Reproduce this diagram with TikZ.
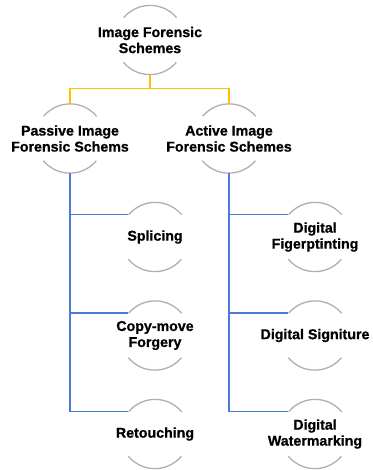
\documentclass[tikz,border=0pt]{standalone}
\usepackage{fontspec}
\setmainfont{Liberation Sans}
\newfontfamily\lblfont{Liberation Sans}[BoldFeatures={FakeBold=0.8}]
\begin{document}
\begin{tikzpicture}[x=1pt,y=-1pt,
  ring/.style={circle,draw=none,minimum size=69pt,inner sep=0pt},
  lbl/.style={font=\lblfont\bfseries\fontsize{14.2}{16}\selectfont,align=center,text=black,inner sep=0pt},
  arcline/.style={draw=arcgray,line width=1.3pt},
  trunk/.style={draw=goldline,line width=1.6pt},
  branch/.style={draw=blueline,line width=1.4pt}]
\definecolor{arcgray}{HTML}{AFAFAF}
\definecolor{goldline}{HTML}{FFC000}
\definecolor{blueline}{HTML}{4A7BDA}
\useasboundingbox (0,0) rectangle (372,470);

% circle holders
\node[ring] (root)    at (150,40)  {};
\node[ring] (passive) at (70,138.5)  {};
\node[ring] (active)  at (229,138.5) {};
\node[ring] (splice)  at (155,237) {};
\node[ring] (copy)    at (155,335.5) {};
\node[ring] (retouch) at (155,434) {};
\node[ring] (finger)  at (315,237) {};
\node[ring] (sign)    at (315,335.5) {};
\node[ring] (water)   at (315,434) {};

% open arcs around each label
\foreach \n in {root,passive,active,splice,copy,retouch,finger,sign,water}{
  \draw[arcline] (\n.40) arc[start angle=40,end angle=140,radius=34.5pt];
  \draw[arcline] (\n.220) arc[start angle=220,end angle=320,radius=34.5pt];
}

% labels
\node[lbl] (root-t)    at (root)    {Image Forensic\\Schemes};
\node[lbl] (passive-t) at (passive) {Passive Image\\Forensic Schems};
\node[lbl] (active-t)  at (active)  {Active Image\\Forensic Schemes};
\node[lbl] (splice-t)  at (splice)  {Splicing};
\node[lbl] (copy-t)    at (copy)    {Copy-move\\Forgery};
\node[lbl] (retouch-t) at (retouch) {Retouching};
\node[lbl] (finger-t)  at (finger)  {Digital\\Figerptinting};
\node[lbl] (sign-t)    at (sign)    {Digital Signiture};
\node[lbl] (water-t)   at (water)   {Digital\\Watermarking};

% top level connectors
\coordinate (fork) at ([yshift=-14pt]root.south);
\draw[trunk] (root.south) -- (fork) -| (passive.north);
\draw[trunk] (fork) -| (active.north);

% second level connectors
\draw[branch] (passive.south) |- (splice.140);
\draw[branch] (passive.south) |- (copy.140);
\draw[branch] (passive.south) |- (retouch.140);
\draw[branch] (active.south) |- (finger.140);
\draw[branch] (active.south) |- (sign.140);
\draw[branch] (active.south) |- (water.140);
\end{tikzpicture}
\end{document}
